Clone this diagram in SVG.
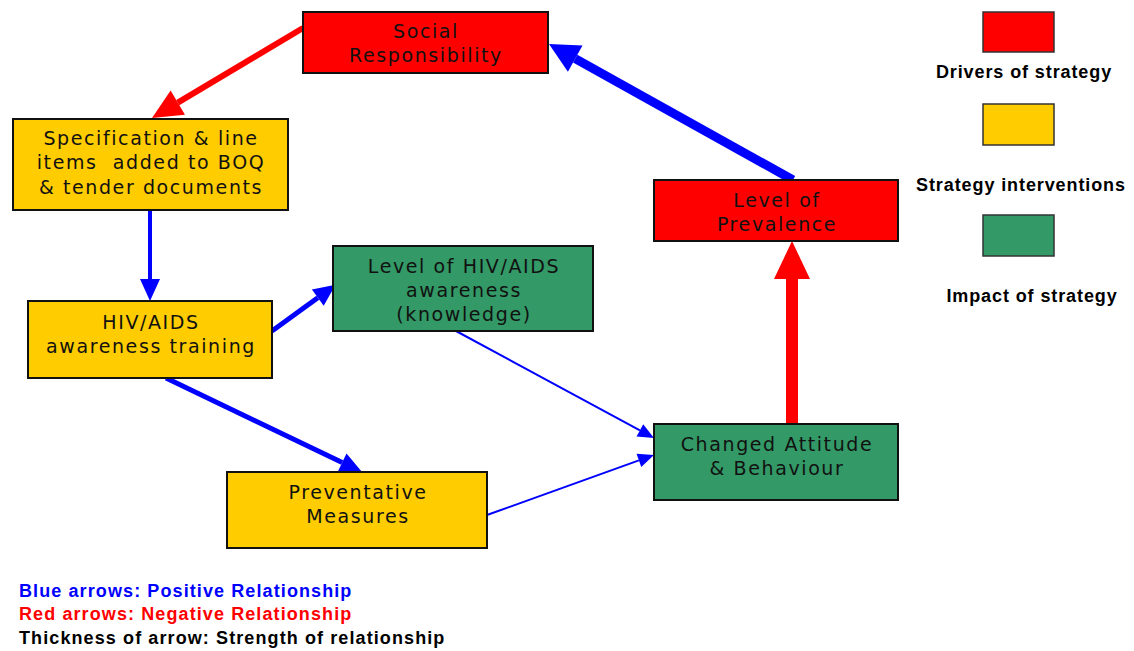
<svg xmlns="http://www.w3.org/2000/svg" width="1134" height="651" viewBox="0 0 1134 651">
<style>
.box{stroke:#111;stroke-width:2}
.red{fill:#FF0000}
.yel{fill:#FFCC00}
.grn{fill:#339966}
.nt{font-family:"DejaVu Sans",Verdana,sans-serif;font-size:19px;letter-spacing:1.6px;fill:#111;text-anchor:middle;white-space:pre}
.lg{font-family:"Liberation Sans",Arial,sans-serif;font-size:18px;font-weight:bold;letter-spacing:1.1px;fill:#000}
.cb{fill:none;stroke:#0000FF}
.cr{fill:none;stroke:#FF0000}
</style>
<defs>
<marker id="mRedM" markerUnits="userSpaceOnUse" orient="auto" refX="0" refY="0" markerWidth="40" markerHeight="40" overflow="visible"><path d="M0,-14 L30,0 L0,14 z" fill="#FF0000"/></marker>
<marker id="mRedL" markerUnits="userSpaceOnUse" orient="auto" refX="0" refY="0" markerWidth="40" markerHeight="40" overflow="visible"><path d="M0,-18 L38,0 L0,18 z" fill="#FF0000"/></marker>
<marker id="mBlueL" markerUnits="userSpaceOnUse" orient="auto" refX="0" refY="0" markerWidth="40" markerHeight="40" overflow="visible"><path d="M0,-15 L30,0 L0,15 z" fill="#0000FF"/></marker>
<marker id="mBlueM" markerUnits="userSpaceOnUse" orient="auto" refX="0" refY="0" markerWidth="40" markerHeight="40" overflow="visible"><path d="M0,-10 L22,0 L0,10 z" fill="#0000FF"/></marker>
<marker id="mBlueS" markerUnits="userSpaceOnUse" orient="auto" refX="0" refY="0" markerWidth="40" markerHeight="40" overflow="visible"><path d="M0,-7 L16,0 L0,7 z" fill="#0000FF"/></marker>
</defs>

<g id="connectors">
<line class="cr" x1="303" y1="28" x2="177.8" y2="102.6" stroke-width="6" marker-end="url(#mRedM)"/>
<line class="cb" x1="793" y1="180" x2="575.2" y2="58.6" stroke-width="9" marker-end="url(#mBlueL)"/>
<line class="cb" x1="150" y1="210" x2="150" y2="279" stroke-width="4" marker-end="url(#mBlueM)"/>
<line class="cb" x1="272" y1="331" x2="317.8" y2="297.7" stroke-width="5" marker-end="url(#mBlueM)"/>
<line class="cb" x1="166" y1="378" x2="342.2" y2="462.5" stroke-width="5" marker-end="url(#mBlueM)"/>
<line class="cb" x1="456" y1="331" x2="639.9" y2="430.4" stroke-width="2" marker-end="url(#mBlueS)"/>
<line class="cb" x1="487" y1="515" x2="638.9" y2="460.4" stroke-width="2" marker-end="url(#mBlueS)"/>
<line class="cr" x1="792" y1="424" x2="792" y2="279" stroke-width="12" marker-end="url(#mRedL)"/>
</g>

<g id="social-responsibility">
<rect class="box red" x="303" y="12" width="245" height="61"/>
<text class="nt" x="426" y="38">Social</text>
<text class="nt" x="426" y="62">Responsibility</text>
</g>

<g id="specification">
<rect class="box yel" x="13" y="119" width="275" height="91"/>
<text class="nt" x="151" y="144.5">Specification &amp; line</text>
<text class="nt" x="151" y="168.5" xml:space="preserve">items  added to BOQ</text>
<text class="nt" x="151" y="193.5">&amp; tender documents</text>
</g>

<g id="awareness-training">
<rect class="box yel" x="28" y="301" width="244" height="77"/>
<text class="nt" x="151" y="328.5">HIV/AIDS</text>
<text class="nt" x="151" y="352.5">awareness training</text>
</g>

<g id="awareness-level">
<rect class="box grn" x="333" y="246" width="260" height="85"/>
<text class="nt" x="464" y="272.5">Level of HIV/AIDS</text>
<text class="nt" x="464" y="296.5">awareness</text>
<text class="nt" x="464" y="320.5">(knowledge)</text>
</g>

<g id="preventative-measures">
<rect class="box yel" x="227" y="472" width="260" height="76"/>
<text class="nt" x="358" y="498.5">Preventative</text>
<text class="nt" x="358" y="522.5">Measures</text>
</g>

<g id="changed-attitude">
<rect class="box grn" x="654" y="424" width="244" height="76"/>
<text class="nt" x="777" y="450.5">Changed Attitude</text>
<text class="nt" x="777" y="474.5">&amp; Behaviour</text>
</g>

<g id="level-of-prevalence">
<rect class="box red" x="654" y="180" width="244" height="61"/>
<text class="nt" x="777" y="206.5">Level of</text>
<text class="nt" x="777" y="230.5">Prevalence</text>
</g>

<g id="legend">
<rect x="983" y="12" width="71" height="40" fill="#FF0000" stroke="#333" stroke-width="1.5"/>
<text class="lg" x="1024" y="78" text-anchor="middle" style="letter-spacing:0.9px">Drivers of strategy</text>
<rect x="983" y="104" width="71" height="41" fill="#FFCC00" stroke="#333" stroke-width="1.5"/>
<text class="lg" x="1021" y="191" text-anchor="middle" style="letter-spacing:0.9px">Strategy interventions</text>
<rect x="983" y="215" width="71" height="41" fill="#339966" stroke="#333" stroke-width="1.5"/>
<text class="lg" x="1032" y="302" text-anchor="middle" style="letter-spacing:0.9px">Impact of strategy</text>
</g>

<g id="key">
<text class="lg" x="19" y="597" style="fill:#0000FF">Blue arrows: Positive Relationship</text>
<text class="lg" x="19" y="620" style="fill:#FF0000">Red arrows: Negative Relationship</text>
<text class="lg" x="19" y="644">Thickness of arrow: Strength of relationship</text>
</g>
</svg>
